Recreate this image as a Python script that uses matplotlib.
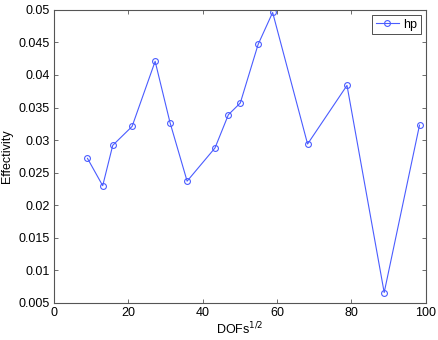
import matplotlib
matplotlib.use("Agg")
from matplotlib import pyplot as plt

# data
dofs = [9.0, 13.1, 15.8, 21.0, 27.2, 31.2, 35.8, 43.3, 46.9, 50.1, 54.9, 58.8, 68.2, 78.8, 88.8, 98.3]
effectivity = [0.0272, 0.0230, 0.0292, 0.0321, 0.0421, 0.0327, 0.0237, 0.0288,
               0.0339, 0.0357, 0.0447, 0.0496, 0.0294, 0.0384, 0.0066, 0.0323]
xticks = [0, 20, 40, 60, 80, 100]
yticks = [0.005, 0.01, 0.015, 0.02, 0.025, 0.03, 0.035, 0.04, 0.045, 0.05]
ytick_labels = ['0.005', '0.01', '0.015', '0.02', '0.025', '0.03', '0.035', '0.04', '0.045', '0.05']

plt.rcParams['font.family'] = ['Liberation Sans', 'DejaVu Sans']
plt.rcParams['font.size'] = 9

fig = plt.figure(figsize=(4.39, 3.40), dpi=100)
ax = fig.add_axes([0.123, 0.109, 0.847, 0.862])

ax.plot(dofs, effectivity, color='#4a5cff', lw=0.8, marker='o', ms=4.2,
        mfc='none', mec='#4a5cff', mew=0.8, label='hp')

ax.set_xlim(0, 100)
ax.set_ylim(0.005, 0.05)
ax.set_xticks(xticks)
ax.set_yticks(yticks)
ax.set_yticklabels(ytick_labels)
ax.tick_params(direction='in', top=True, right=True, length=3, width=0.6,
               color='#555555', labelsize=9, pad=3)
for s in ax.spines.values():
    s.set_color('#555555')
    s.set_linewidth(0.8)

ax.set_xlabel('DOFs$^{1/2}$', fontsize=9, labelpad=1)
ax.set_ylabel('Effectivity', fontsize=9, labelpad=4)

leg = ax.legend(loc='upper right', fancybox=False, framealpha=1, handlelength=1.9,
                borderpad=0.3, handletextpad=0.3, borderaxespad=0.4, fontsize=9)
leg.get_frame().set_edgecolor('#333333')
leg.get_frame().set_linewidth(0.6)

fig.savefig('out.png', dpi=100)
